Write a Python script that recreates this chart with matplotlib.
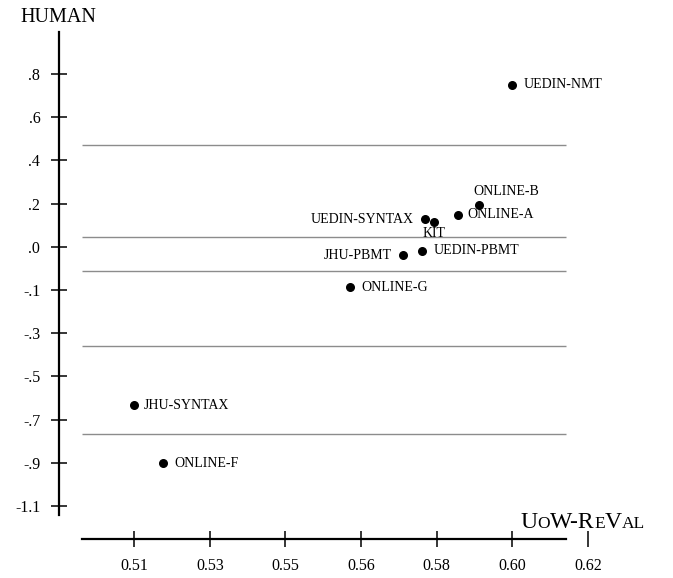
import numpy as np
import matplotlib
matplotlib.use("Agg")
import matplotlib.pyplot as plt

plt.rcParams['font.family'] = ['Liberation Serif', 'DejaVu Serif']

# Systems and their scores (UoW-ReVal on x, human on y)
systems = ["UEDIN-NMT", "ONLINE-B", "ONLINE-A", "UEDIN-SYNTAX", "KIT",
           "JHU-PBMT", "UEDIN-PBMT", "ONLINE-G", "JHU-SYNTAX", "ONLINE-F"]
reval = [0.6016, 0.5936, 0.5885, 0.5805, 0.5827,
         0.5752, 0.5798, 0.5623, 0.5100, 0.5170]
human = [0.752, 0.224, 0.180, 0.162, 0.149,
         0.004, 0.022, -0.137, -0.656, -0.911]
# label placement: (dx, dy) in points, ha
label_pos = {"UEDIN-NMT": (8, 0, "left"), "ONLINE-B": (-4, 10, "left"),
             "ONLINE-A": (7, 0, "left"), "UEDIN-SYNTAX": (-8, 0, "right"),
             "KIT": (0, -8, "center"), "JHU-PBMT": (-8, 0, "right"),
             "UEDIN-PBMT": (8, 0, "left"), "ONLINE-G": (8, 0, "left"),
             "JHU-SYNTAX": (7, 0, "left"), "ONLINE-F": (8, 0, "left")}

# cluster boundaries (horizontal gray lines)
boundaries = [0.488, 0.083, -0.066, -0.396, -0.783]

x_ticks = np.linspace(0.51, 0.62, 7)
x_labels = ["0.51", "0.53", "0.55", "0.56", "0.58", "0.60", "0.62"]
y_ticks = np.linspace(0.8, -1.1, 11)
y_labels = [".8", ".6", ".4", ".2", ".0", "-.1", "-.3", "-.5", "-.7", "-.9", "-1.1"]

fig = plt.figure(figsize=(6.73, 5.78), dpi=100)
ax = fig.add_axes([0, 0, 1, 1])
ax.set_xlim(0.4775, 0.6406)
ax.set_ylim(-1.4164, 1.1254)

for b in boundaries:
    ax.hlines(b, 0.4974, 0.6147, color="#8c8c8c", lw=1.0, zorder=1)

ax.scatter(reval, human, s=30, color="black", zorder=3)
for name, xv, yv in zip(systems, reval, human):
    dx, dy, ha = label_pos[name]
    ax.annotate(name, (xv, yv), xytext=(dx, dy), textcoords="offset points",
                ha=ha, va="center", fontsize=10)

# axes drawn as free-standing spines
for s in ["top", "right"]:
    ax.spines[s].set_visible(False)
ax.spines["left"].set_position(("data", 0.4918))
ax.spines["left"].set_bounds(-1.139, 0.985)
ax.spines["bottom"].set_position(("data", -1.245))
ax.spines["bottom"].set_bounds(0.4974, 0.6147)
for s in ["left", "bottom"]:
    ax.spines[s].set_linewidth(1.6)
ax.set_xticks(x_ticks, x_labels)
ax.set_yticks(y_ticks, y_labels)
ax.tick_params(direction="inout", length=11, width=1.1, labelsize=11.5)
ax.tick_params(axis="y", pad=8)
ax.tick_params(axis="x", pad=8)
ax.patch.set_visible(False)

fig.text(58 / 673, 1 - 17 / 578, "HUMAN", fontsize=14.5, ha="center", va="center")

# small-caps axis title
pieces = [("U", 17), ("O", 12.5), ("W-R", 17), ("E", 12.5), ("V", 17), ("AL", 12.5)]
fig.canvas.draw()
renderer = fig.canvas.get_renderer()
xpix = 520
for txt, fs in pieces:
    t = fig.text(xpix / 673, 1 - 528 / 578, txt, fontsize=fs, ha="left", va="baseline")
    xpix = t.get_window_extent(renderer).x1

fig.savefig("out.png", dpi=100)
